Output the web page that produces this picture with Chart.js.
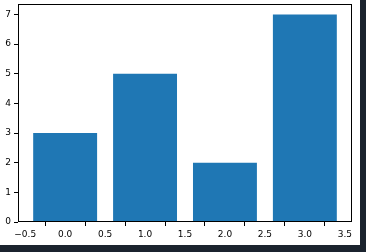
<!DOCTYPE html>
<html>
<head>
<meta charset="utf-8">
<script src="https://cdn.jsdelivr.net/npm/chart.js@4.4.0/dist/chart.umd.min.js"></script>
<style>
    html, body { margin: 0; padding: 0; background: #1b232e; }
    #wrap { position: absolute; left: 0; top: 0; width: 360px; height: 245px; background: #fff; }
</style>
</head>
<body>
<div id="wrap"><canvas id="myChart" width="360" height="245"></canvas></div>
<script>
// data
const positions = [0, 1, 2, 3];
const heights = [3, 5, 2, 7];
const xTicks = [-0.5, 0.0, 0.5, 1.0, 1.5, 2.0, 2.5, 3.0, 3.5];
const yTicks = [0, 1, 2, 3, 4, 5, 6, 7];

// box around the plot area (matplotlib spines)
const frame = {
    id: 'frame',
    afterDraw(chart) {
        const a = chart.chartArea;
        const ctx = chart.ctx;
        ctx.save();
        ctx.strokeStyle = '#000';
        ctx.lineWidth = 1;
        ctx.strokeRect(Math.round(a.left) + 0.5, Math.round(a.top) + 0.5,
            Math.round(a.right - a.left) - 1, Math.round(a.bottom - a.top) - 1);
        ctx.restore();
    }
};

const ctx = document.querySelector('#myChart').getContext('2d');
const myChart = new Chart(ctx, {
    type: 'bar',
    data: {
        datasets: [{
            data: positions.map((p, i) => ({ x: p, y: heights[i] })),
            backgroundColor: '#1f77b4',
            borderWidth: 0,
            // ticks every 0.5 make chart.js think the spacing is 0.5, so 1.6 => 0.8 wide
            barPercentage: 1.6,
            categoryPercentage: 1
        }]
    },
    options: {
        responsive: false,
        animation: false,
        layout: { padding: { top: 4, right: 8, left: 0, bottom: 0 } },
        plugins: { legend: { display: false }, tooltip: { enabled: false } },
        scales: {
            x: {
                type: 'linear',
                offset: false,
                min: -0.59,
                max: 3.59,
                afterFit: (s) => { s.height = 23; s.paddingLeft = 0; s.paddingRight = 0; },
                afterBuildTicks: (s) => { s.ticks = xTicks.map(v => ({ value: v })); },
                border: { display: false },
                grid: { drawOnChartArea: false, drawTicks: true, tickLength: 4, tickColor: '#000' },
                ticks: {
                    color: '#000',
                    font: { family: 'DejaVu Sans', size: 9 },
                    padding: 3,
                    maxRotation: 0,
                    callback: (v) => (v < 0 ? '\u2212' : '') + Math.abs(v).toFixed(1)
                }
            },
            y: {
                min: 0,
                max: 7.35,
                afterFit: (s) => { s.width = 18; s.paddingTop = 0; s.paddingBottom = 0; },
                afterBuildTicks: (s) => { s.ticks = yTicks.map(v => ({ value: v })); },
                border: { display: false },
                grid: { drawOnChartArea: false, drawTicks: true, tickLength: 4, tickColor: '#000' },
                ticks: {
                    color: '#000',
                    font: { family: 'DejaVu Sans', size: 9 },
                    padding: 3
                }
            }
        }
    },
    plugins: [frame]
});
</script>
</body>
</html>
